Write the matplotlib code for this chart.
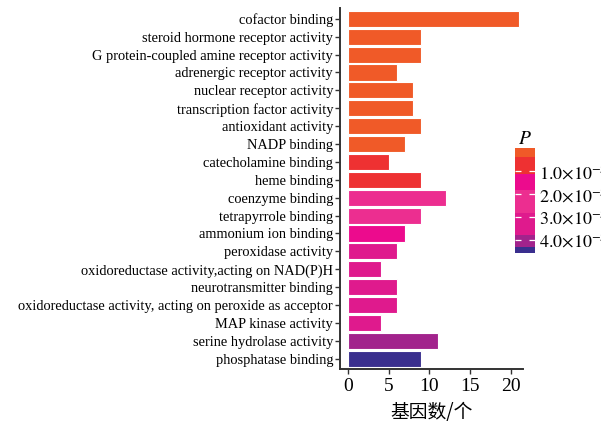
import matplotlib
matplotlib.use("Agg")
import matplotlib.pyplot as plt
from matplotlib.colors import LinearSegmentedColormap, Normalize
from matplotlib.cm import ScalarMappable
import numpy as np

# GO molecular-function terms (top to bottom), gene counts and P values
terms = [
    "cofactor binding",
    "steroid hormone receptor activity",
    "G protein-coupled amine receptor activity",
    "adrenergic receptor activity",
    "nuclear receptor activity",
    "transcription factor activity",
    "antioxidant activity",
    "NADP binding",
    "catecholamine binding",
    "heme binding",
    "coenzyme binding",
    "tetrapyrrole binding",
    "ammonium ion binding",
    "peroxidase activity",
    "oxidoreductase activity,acting on NAD(P)H",
    "neurotransmitter binding",
    "oxidoreductase activity, acting on peroxide as acceptor",
    "MAP kinase activity",
    "serine hydrolase activity",
    "phosphatase binding",
]
gene_counts = [21, 9, 9, 6, 8, 8, 9, 7, 5, 9, 12, 9, 7, 6, 4, 6, 6, 4, 11, 9]
p_values = [0.10e-5, 0.15e-5, 0.20e-5, 0.25e-5, 0.30e-5, 0.30e-5, 0.35e-5, 0.36e-5,
            0.80e-5, 0.90e-5, 2.30e-5, 2.40e-5, 1.50e-5, 3.30e-5, 3.40e-5, 3.40e-5,
            3.50e-5, 3.60e-5, 4.10e-5, 4.50e-5]
p_min, p_max = 0.0, 4.6e-5
cbar_ticks = [1.0e-5, 2.0e-5, 3.0e-5, 4.0e-5]
cbar_ticklabels = [r"$1.0{\times}10^{-5}$", r"$2.0{\times}10^{-5}$",
                   r"$3.0{\times}10^{-5}$", r"$4.0{\times}10^{-5}$"]
x_ticks = [0, 5, 10, 15, 20]

plt.rcParams["font.family"] = ["Liberation Serif", "DejaVu Serif"]
plt.rcParams["mathtext.fontset"] = "stix"

# stepped palette for the P scale
steps = [
    (0.000, "#F05A28"), (0.085, "#F05A28"),
    (0.085, "#EE3132"), (0.240, "#EE3132"),
    (0.240, "#EC0B8D"), (0.400, "#EC0B8D"),
    (0.400, "#EC2E90"), (0.620, "#EC2E90"),
    (0.620, "#DF1A8D"), (0.830, "#DF1A8D"),
    (0.830, "#A2238C"), (0.940, "#A2238C"),
    (0.940, "#3A2F8E"), (1.000, "#3A2F8E"),
]
cmap = LinearSegmentedColormap.from_list("pscale", steps, N=512)
norm = Normalize(vmin=p_min, vmax=p_max)

W, H = 601, 425
fig = plt.figure(figsize=(W / 100, H / 100), dpi=100)
ax = fig.add_axes([340 / W, 1 - 369.4 / H, (523 - 340) / W, (369.4 - 8.1) / H])

ypos = np.arange(len(terms))
colors = cmap(norm(np.array(p_values)))
ax.barh(ypos, gene_counts, height=0.9, color=colors, edgecolor="white", linewidth=0.8)

ax.set_ylim(len(terms) - 0.4, -0.6)
ax.set_xlim(-1.0, 21.5)
ax.set_yticks(ypos)
ax.set_yticklabels(terms, fontsize=10.4)
ax.set_xticks(x_ticks)
ax.set_xticklabels([str(t) for t in x_ticks], fontsize=14)
for s in ["top", "right"]:
    ax.spines[s].set_visible(False)
for s in ["left", "bottom"]:
    ax.spines[s].set_color("#333333")
    ax.spines[s].set_linewidth(1.4)
ax.tick_params(axis="both", color="#333333", length=3.5, width=1.0, pad=1.5)
ax.tick_params(axis="x", pad=3)
ax.set_xlabel("基因数/个", fontsize=13.5, family=["Noto Sans CJK SC", "DejaVu Sans"],
              labelpad=5)

# colour bar for P
cax = fig.add_axes([515 / W, 1 - 253.3 / H, 20 / W, 105 / H])
sm = ScalarMappable(norm=norm, cmap=cmap)
cb = fig.colorbar(sm, cax=cax, ticks=cbar_ticks)
cb.outline.set_visible(False)
cax.invert_yaxis()
cax.set_yticklabels(cbar_ticklabels, fontsize=13)
cax.yaxis.set_ticks_position("both")
cax.tick_params(axis="y", direction="in", color="white", length=4, width=0.9,
                pad=3, labelleft=False, labelright=True)
cax.set_title("$P$", fontsize=14, pad=3)

fig.savefig("out.png", dpi=100)
